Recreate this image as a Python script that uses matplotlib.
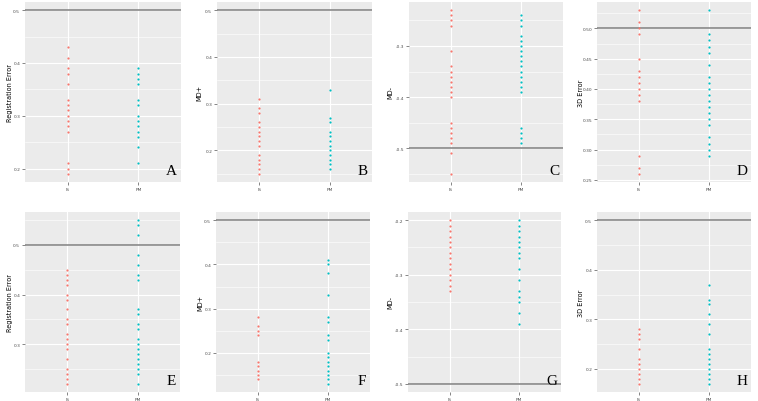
import matplotlib.pyplot as plt
import numpy as np
from matplotlib.ticker import MultipleLocator

# values, one list per group and panel
is_A = [0.43, 0.41, 0.39, 0.38, 0.36, 0.33, 0.32, 0.31, 0.30, 0.29, 0.28, 0.27, 0.21, 0.20, 0.19]
pm_A = [0.39, 0.38, 0.37, 0.36, 0.33, 0.32, 0.30, 0.29, 0.28, 0.27, 0.26, 0.24, 0.21]

is_B = [0.31, 0.29, 0.28, 0.26, 0.25, 0.24, 0.23, 0.22, 0.21, 0.19, 0.18, 0.17, 0.16, 0.15]
pm_B = [0.33, 0.27, 0.26, 0.24, 0.23, 0.22, 0.21, 0.20, 0.19, 0.18, 0.17, 0.16]

is_C = [-0.23, -0.24, -0.25, -0.26, -0.31, -0.34, -0.35, -0.36, -0.37, -0.38, -0.39, -0.40,
        -0.45, -0.46, -0.47, -0.48, -0.49, -0.51, -0.55]
pm_C = [-0.24, -0.25, -0.26, -0.28, -0.29, -0.30, -0.31, -0.32, -0.33, -0.34, -0.35, -0.36,
        -0.37, -0.38, -0.39, -0.46, -0.47, -0.48, -0.49]

is_D = [0.53, 0.51, 0.50, 0.49, 0.45, 0.43, 0.42, 0.41, 0.40, 0.39, 0.38, 0.29, 0.27, 0.26]
pm_D = [0.53, 0.49, 0.48, 0.47, 0.46, 0.44, 0.42, 0.41, 0.40, 0.39, 0.38, 0.37, 0.36, 0.35,
        0.34, 0.32, 0.31, 0.30, 0.29]

is_E = [0.45, 0.44, 0.43, 0.42, 0.40, 0.39, 0.37, 0.35, 0.34, 0.32, 0.31, 0.30, 0.29, 0.27,
        0.25, 0.24, 0.23, 0.22]
pm_E = [0.55, 0.54, 0.52, 0.48, 0.46, 0.44, 0.43, 0.37, 0.36, 0.34, 0.33, 0.31, 0.30, 0.29,
        0.28, 0.27, 0.26, 0.25, 0.24, 0.22]

is_F = [0.28, 0.26, 0.25, 0.24, 0.18, 0.17, 0.16, 0.15, 0.14]
pm_F = [0.41, 0.40, 0.38, 0.33, 0.28, 0.27, 0.24, 0.23, 0.20, 0.19, 0.18, 0.17, 0.16, 0.15,
        0.14, 0.13]

is_G = [-0.20, -0.21, -0.22, -0.23, -0.24, -0.25, -0.26, -0.27, -0.28, -0.29, -0.30, -0.31,
        -0.32, -0.33]
pm_G = [-0.20, -0.21, -0.22, -0.23, -0.24, -0.25, -0.26, -0.27, -0.29, -0.31, -0.33, -0.34,
        -0.35, -0.37, -0.39]

is_H = [0.28, 0.27, 0.26, 0.24, 0.22, 0.21, 0.20, 0.19, 0.18, 0.17]
pm_H = [0.37, 0.34, 0.33, 0.31, 0.29, 0.27, 0.24, 0.23, 0.22, 0.21, 0.20, 0.19, 0.18, 0.17]

groups = ["IS", "PM"]
letters = ["A", "B", "C", "D", "E", "F", "G", "H"]
ylabels = ["Registration Error", "MD+", "MD-", "3D Error"] * 2
thresholds = [0.5, 0.5, -0.5, 0.5, 0.5, 0.5, -0.5, 0.5]
steps = [0.1, 0.1, 0.1, 0.05, 0.1, 0.1, 0.1, 0.1]
fmts = ["%.1f", "%.1f", "%.1f", "%.2f", "%.1f", "%.1f", "%.1f", "%.1f"]
data = [(is_A, pm_A), (is_B, pm_B), (is_C, pm_C), (is_D, pm_D),
        (is_E, pm_E), (is_F, pm_F), (is_G, pm_G), (is_H, pm_H)]

W, H = 758, 402
# panel boxes in pixels: left, right, top, bottom, right edge of the y label
boxes = [(25, 181, 3, 183, 13), (217, 372, 3, 183, 202), (409, 563, 3, 183, 393), (597, 751, 3, 183, 584),
         (25, 180, 213, 393, 13), (216, 370, 213, 393, 203), (408, 561, 213, 393, 393), (597, 751, 213, 393, 584)]

fig = plt.figure(figsize=(W / 100, H / 100), dpi=100)

for i in range(8):
    l, r, t, b, lx = boxes[i]
    ax = fig.add_axes([l / W, 1 - b / H, (r - l) / W, (b - t) / H])
    ax.set_facecolor("#EBEBEB")
    for s in ax.spines.values():
        s.set_visible(False)

    vis, vpm = data[i]
    ax.scatter(np.full(len(vis), 1), vis, s=2.5, color="#F8766D", zorder=3, linewidths=0)
    ax.scatter(np.full(len(vpm), 2), vpm, s=2.5, color="#00BFC4", zorder=3, linewidths=0)
    ax.axhline(thresholds[i], color="#7F7F7F", lw=1.1, zorder=2)

    allv = list(vis) + list(vpm) + [thresholds[i]]
    lo, hi = min(allv), max(allv)
    pad = (hi - lo) * 0.05
    ax.set_ylim(lo - pad, hi + pad)
    ax.set_xlim(0.4, 2.6)

    ax.set_xticks([1, 2])
    ax.set_xticklabels(groups)
    ax.yaxis.set_major_locator(MultipleLocator(steps[i]))
    ax.yaxis.set_minor_locator(MultipleLocator(steps[i] / 2))
    ax.yaxis.set_major_formatter(plt.FormatStrFormatter(fmts[i]))
    ax.grid(True, which="major", color="white", lw=0.8, zorder=1)
    ax.grid(True, which="minor", axis="y", color="white", lw=0.4, zorder=1)
    ax.set_axisbelow(True)
    ax.tick_params(which="major", length=2, width=0.5, color="#555555", labelsize=3.2,
                   labelcolor="#4D4D4D", pad=1.5)
    ax.tick_params(which="minor", length=0)

    ax.set_ylabel(ylabels[i], fontsize=4.7, color="black", fontweight="medium")
    ax.yaxis.set_label_coords(-(l - lx) / (r - l), 0.5)

    ax.text(0.975, 0.03, letters[i], transform=ax.transAxes, ha="right", va="bottom",
            fontsize=11, family="Liberation Serif", color="black")

fig.savefig("out.png", dpi=100)
